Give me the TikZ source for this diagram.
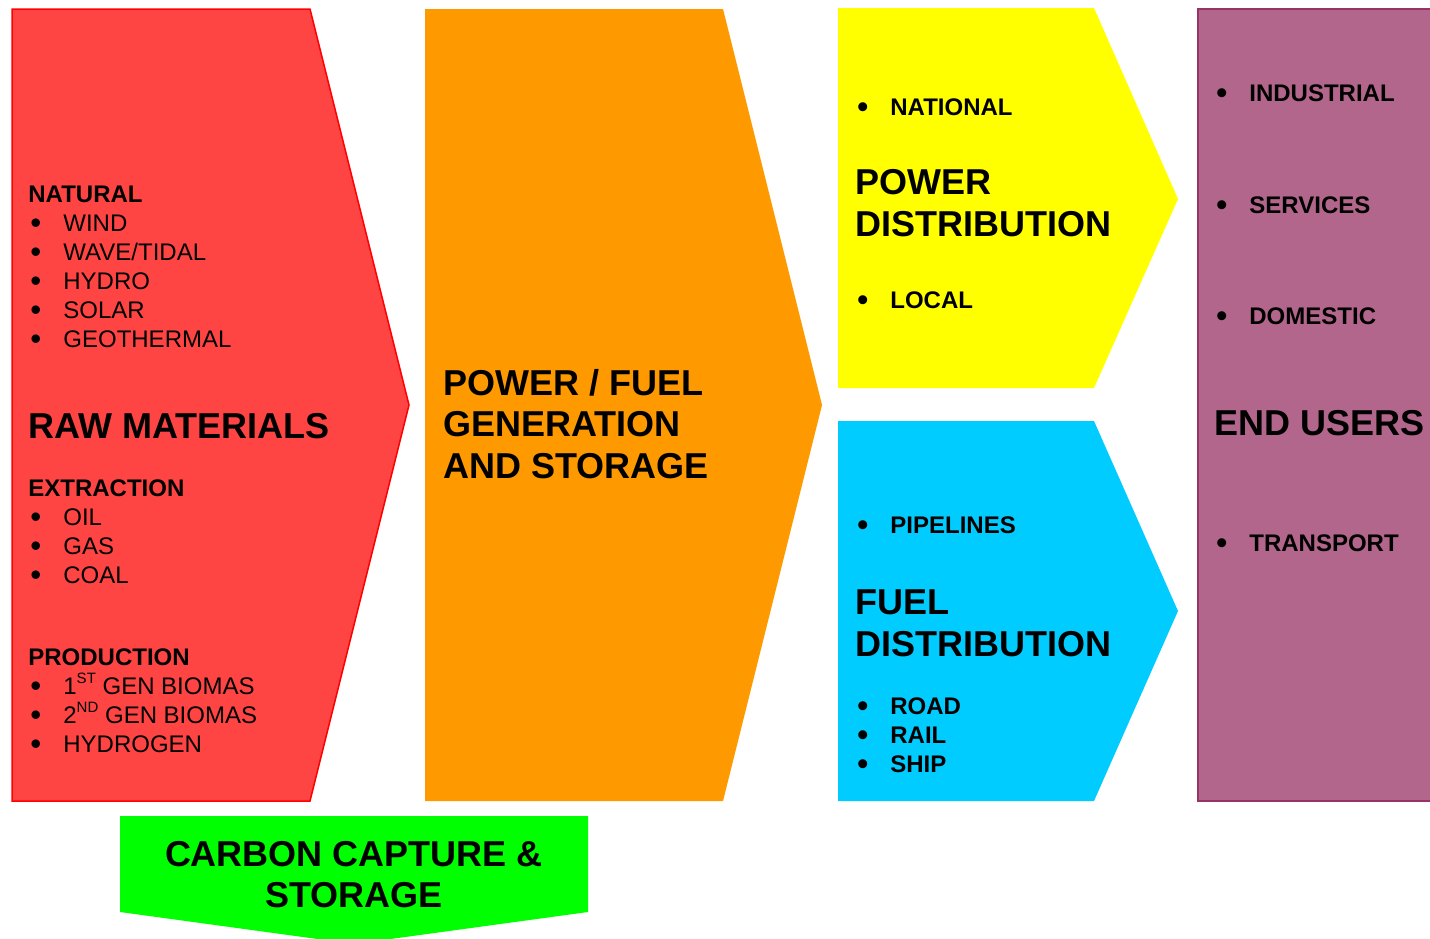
\documentclass[tikz,border=0pt]{standalone}
\usepackage{fontspec}
\setmainfont{Liberation Sans}
\usepackage{tikz}

\definecolor{rawred}{HTML}{FF4444}
\definecolor{genorange}{HTML}{FF9900}
\definecolor{powyellow}{HTML}{FFFF00}
\definecolor{fuelblue}{HTML}{00CCFF}
\definecolor{userpurple}{HTML}{B3668C}
\definecolor{userborder}{HTML}{993366}
\definecolor{ccsgreen}{HTML}{00FF00}

\newcommand{\bul}[1]{\hspace*{1pt}\makebox[16.5pt][l]{\raisebox{-0.2ex}{\scalebox{1.3}{\textbullet}}}#1}
\newcommand{\sps}[1]{\raisebox{0.45em}{\fontsize{7.5}{7.5}\selectfont #1}}

\tikzset{
    item/.style={anchor=base west, inner sep=0pt, align=left, font=\fontsize{12}{14.5}\selectfont},
    bolditem/.style={item, font=\fontsize{12}{14.5}\selectfont\bfseries},
    title/.style={anchor=base west, inner sep=0pt, align=left, font=\fontsize{18}{20.75}\selectfont\bfseries},
}

\begin{document}
\begin{tikzpicture}[x=0.5pt, y=-0.5pt]
    \clip (0, 0) rectangle (1430, 938);
    \useasboundingbox (0, 0) rectangle (1430, 938);

    % stages
    \draw[fill=rawred, draw=red, line width=0.75pt] (12, 9) -- (310, 9) -- (409, 405) -- (310, 801) -- (12, 801) -- cycle;
    \fill[genorange] (425, 9) -- (723, 9) -- (822, 405) -- (723, 801) -- (425, 801) -- cycle;
    \fill[powyellow] (838, 8) -- (1094, 8) -- (1178, 199) -- (1094, 388) -- (838, 388) -- cycle;
    \fill[fuelblue] (838, 421) -- (1094, 421) -- (1178, 611) -- (1094, 801) -- (838, 801) -- cycle;
    \draw[fill=userpurple, draw=userborder, line width=0.75pt] (1198, 9) rectangle (1445, 801);
    \fill[ccsgreen] (120, 816) -- (588, 816) -- (588, 912) -- (354, 944) -- (120, 912) -- cycle;

    % raw materials (multi-line nodes sit on their last baseline)
    \node[item] (natural) at (28, 347) {\textbf{NATURAL}\\ \bul{WIND}\\ \bul{WAVE/TIDAL}\\ \bul{HYDRO}\\ \bul{SOLAR}\\ \bul{GEOTHERMAL}};
    \node[title] (rawtitle) at (28, 438) {RAW MATERIALS};
    \node[item] (extraction) at (28, 583) {\textbf{EXTRACTION}\\ \bul{OIL}\\ \bul{GAS}\\ \bul{COAL}};
    \node[item] (production) at (28, 752) {\textbf{PRODUCTION}\\ \bul{1\sps{ST} GEN BIOMAS}\\ \bul{2\sps{ND} GEN BIOMAS}\\ \bul{HYDROGEN}};

    % generation
    \node[title] (gentitle) at (443, 478) {POWER / FUEL\\ GENERATION\\ AND STORAGE};

    % power distribution
    \node[bolditem] (national) at (855, 115) {\bul{NATIONAL}};
    \node[title] (powtitle) at (855, 236) {POWER\\ DISTRIBUTION};
    \node[bolditem] (local) at (855, 308) {\bul{LOCAL}};

    % fuel distribution
    \node[bolditem] (pipelines) at (855, 533) {\bul{PIPELINES}};
    \node[title] (fueltitle) at (855, 656) {FUEL\\ DISTRIBUTION};
    \node[bolditem] (modes) at (855, 772) {\bul{ROAD}\\ \bul{RAIL}\\ \bul{SHIP}};

    % end users
    \node[bolditem] (industrial) at (1214, 101) {\bul{INDUSTRIAL}};
    \node[bolditem] (services) at (1214, 213) {\bul{SERVICES}};
    \node[bolditem] (domestic) at (1214, 324) {\bul{DOMESTIC}};
    \node[title] (usertitle) at (1214, 435) {END USERS};
    \node[bolditem] (transport) at (1214, 551) {\bul{TRANSPORT}};

    % carbon capture
    \node[anchor=base, inner sep=0pt, align=center, font=\fontsize{18}{20.5}\selectfont\bfseries] (ccstitle) at (354, 907) {CARBON CAPTURE \&\\ STORAGE};
\end{tikzpicture}
\end{document}
